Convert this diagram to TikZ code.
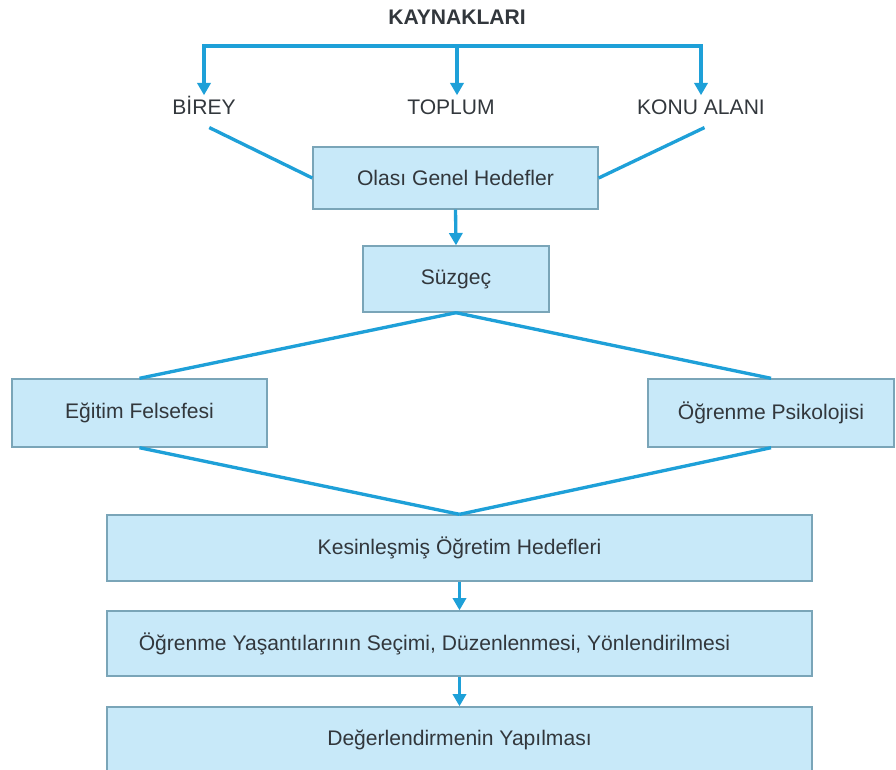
\documentclass[tikz,border=0pt]{standalone}
\usepackage{fontspec}
\setmainfont{Liberation Sans}
\usetikzlibrary{arrows.meta}
\definecolor{lineblue}{RGB}{30,160,216}
\definecolor{boxfill}{RGB}{200,233,249}
\definecolor{boxline}{RGB}{122,165,184}
\definecolor{textgray}{RGB}{50,55,60}
\tikzset{
  box/.style={draw=boxline,fill=boxfill,line width=0.8pt,text=textgray,font=\fontsize{12}{14}\selectfont},
  label/.style={text=textgray,inner sep=2pt,text height=9pt,text depth=0pt,font=\fontsize{12}{14}\selectfont},
  link/.style={draw=lineblue,line width=1.9pt},
  arrow/.style={link,-{Triangle[length=7pt,width=7.5pt]}}
}
\begin{document}
\begin{tikzpicture}[x=0.02cm,y=-0.02cm]
\useasboundingbox (0,0) rectangle (896,769);
\node[label,font=\fontsize{12}{14}\selectfont\bfseries] (kaynak) at (457,17) {KAYNAKLARI};
\node[label] (birey) at (204,107) {BİREY};
\node[label] (toplum) at (451,107) {TOPLUM};
\node[label] (konu) at (701,107) {KONU ALANI};
\node[box,minimum width=5.7cm,minimum height=1.24cm] (olasi) at (455.5,178) {Olası Genel Hedefler};
\node[box,minimum width=3.72cm,minimum height=1.32cm] (suzgec) at (456,279) {Süzgeç};
\node[box,minimum width=5.1cm,minimum height=1.36cm] (egitim) at (139.5,413) {Eğitim Felsefesi};
\node[box,minimum width=4.92cm,minimum height=1.36cm] (psiko) at (771,413) {Öğrenme Psikolojisi};
\node[box,minimum width=14.1cm,minimum height=1.32cm] (kesin) at (459.5,548) {Kesinleşmiş Öğretim Hedefleri};
\node[box,minimum width=14.1cm,minimum height=1.3cm] (secim) at (459.5,643.5) {\hspace*{-1cm}Öğrenme Yaşantılarının Seçimi, Düzenlenmesi, Yönlendirilmesi};
\node[box,minimum width=14.1cm,minimum height=1.32cm] (deger) at (459.5,740) {Değerlendirmenin Yapılması};
\coordinate (bar) at (457,46);
\draw[link] ([xshift=-1pt]birey.north |- bar) -- ([xshift=1pt]konu.north |- bar);
\draw[arrow] (birey.north |- bar) -- (birey.north);
\draw[arrow] (bar) -- (bar |- toplum.north);
\draw[arrow] (konu.north |- bar) -- (konu.north);
\draw[link] ([shift={(3pt,-5pt)}]birey.south) -- (olasi.west);
\draw[link] ([shift={(2pt,-5pt)}]konu.south) -- (olasi.east);
\draw[arrow] (olasi.south) -- (suzgec.north);
\draw[link] (suzgec.south) -- (egitim.north);
\draw[link] (suzgec.south) -- (psiko.north);
\draw[link] (egitim.south) -- (kesin.north);
\draw[link] (psiko.south) -- (kesin.north);
\draw[arrow] (kesin.south) -- (secim.north);
\draw[arrow] (secim.south) -- (deger.north);
\end{tikzpicture}
\end{document}
